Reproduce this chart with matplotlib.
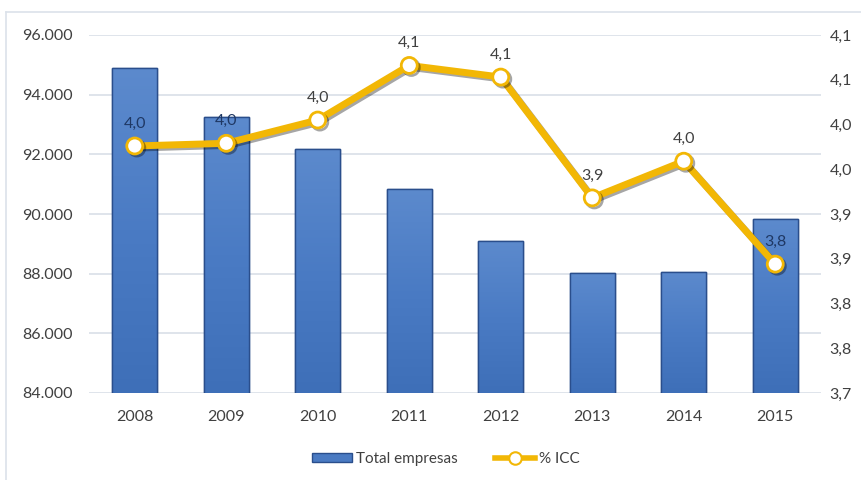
import matplotlib
matplotlib.use("Agg")
import matplotlib.pyplot as plt
import matplotlib.patheffects as pe
from matplotlib.lines import Line2D
from matplotlib.patches import Patch
from matplotlib.colors import LinearSegmentedColormap
import numpy as np

plt.rcParams['font.family'] = ['Lato', 'DejaVu Sans']

years = ['2008', '2009', '2010', '2011', '2012', '2013', '2014', '2015']
total_empresas = [94900, 93240, 92180, 90840, 89090, 88020, 88060, 89830]
icc = [3.976, 3.979, 4.005, 4.066, 4.053, 3.918, 3.959, 3.844]
left_ticks = [84000, 86000, 88000, 90000, 92000, 94000, 96000]
right_ticks = [3.70, 3.75, 3.80, 3.85, 3.90, 3.95, 4.00, 4.05, 4.10]
right_tick_labels = ['3,7', '3,8', '3,8', '3,9', '3,9', '4,0', '4,0', '4,1', '4,1']

txt = '#404040'
grid_c = '#D9DFE8'
line_c = '#F2B705'
bar_c = '#4A7AC2'
edge_c = '#2A4E8C'

fig = plt.figure(figsize=(8.61, 4.80), dpi=100)
ax = fig.add_axes([89/861, 1-393/480, (821-89)/861, (393-35)/480])
ax2 = ax.twinx()

x = np.arange(len(years))
bars = ax.bar(x, total_empresas, width=0.49, color=bar_c,
              edgecolor=edge_c, linewidth=1.0, zorder=2)

# subtle vertical gradient inside each bar
cmap = LinearSegmentedColormap.from_list('bg', ['#3E6FB8', '#4A7BC4', '#5C8ACD'])
grad = np.linspace(0, 1, 256).reshape(-1, 1)
for b in bars:
    x0, w, h = b.get_x(), b.get_width(), b.get_height()
    im = ax.imshow(grad, extent=[x0, x0 + w, 84000, h], origin='lower', cmap=cmap,
                   aspect='auto', zorder=2.1)
    im.set_clip_path(b)
    ax.bar(x0 + w/2, h, width=w, color='none', edgecolor=edge_c, linewidth=1.0, zorder=2.2)
ax.set_aspect('auto')
ax.set_xlim(-0.5, len(years) - 0.5)
ax.set_ylim(84000, 96000)

ax.set_yticks(left_ticks)
ax.set_yticklabels([f"{v:,}".replace(',', '.') for v in left_ticks])
ax.set_xticks(x)
ax.set_xticklabels(years)
ax.yaxis.grid(True, color=grid_c, linewidth=1.2, zorder=0)
ax.set_axisbelow(True)
for s in ax.spines.values():
    s.set_visible(False)
for s in ax2.spines.values():
    s.set_visible(False)
ax.tick_params(axis='y', length=0, pad=12, labelsize=11.5, labelcolor=txt)
ax.tick_params(axis='x', length=0, pad=12, labelsize=11.5, labelcolor=txt)

ax2.plot(x, icc, color=line_c, linewidth=5, marker='o', markersize=11.5,
         markerfacecolor='white', markeredgecolor=line_c, markeredgewidth=2, zorder=5,
         path_effects=[pe.SimpleLineShadow(offset=(1.5, -1.5), alpha=0.35), pe.Normal()])
ax2.set_ylim(3.70, 4.10)
ax2.set_yticks(right_ticks)
ax2.set_yticklabels(right_tick_labels)
ax2.tick_params(axis='y', length=0, pad=6, labelsize=11.5, labelcolor=txt)
ax2.set_xlim(-0.5, len(years) - 0.5)

for i, (xi, v) in enumerate(zip(x, icc)):
    lab = f"{v:.1f}".replace('.', ',')
    # label position in left-axis units, to see if it sits over a bar
    lab_left = 84000 + (v - 3.70) / 0.40 * 12000 + 500
    col = '#1F3864' if total_empresas[i] > lab_left else txt
    ax2.annotate(lab, (xi, v), xytext=(0, 16), textcoords='offset points',
                 ha='center', va='center', fontsize=11.5, color=col, zorder=6)

handles = [Patch(facecolor=bar_c, edgecolor=edge_c),
           Line2D([0], [0], color=line_c, linewidth=4, marker='o', markersize=9,
                  markerfacecolor='white', markeredgecolor=line_c, markeredgewidth=1.5)]
fig.legend(handles, ['Total empresas', '% ICC'], loc='center', bbox_to_anchor=(446/861, 1-459/480),
           ncol=2, frameon=False, fontsize=11, labelcolor=txt, handlelength=2.6,
           handleheight=0.6, columnspacing=2.4, handletextpad=0.3)

# outer frame lines (top and left)
fig.add_artist(Line2D([6/861, 6/861], [0, 1-12/480], transform=fig.transFigure, color='#DCE2EA', linewidth=1.2))
fig.add_artist(Line2D([6/861, 1], [1-12/480, 1-12/480], transform=fig.transFigure, color='#DCE2EA', linewidth=1.2))

fig.savefig('out.png', dpi=100)
